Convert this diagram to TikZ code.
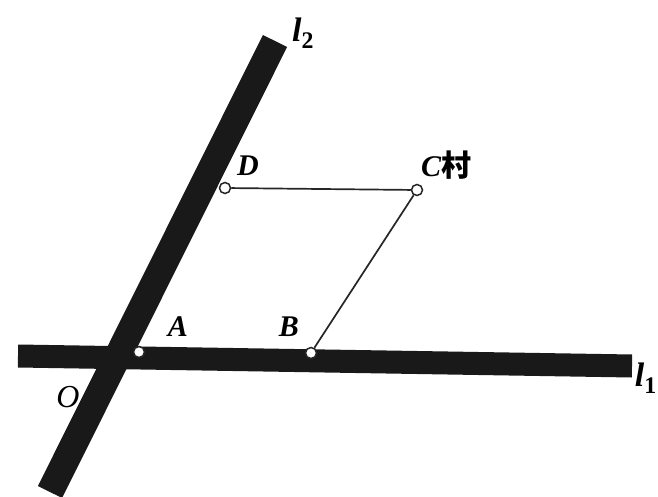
\documentclass[tikz,border=0pt]{standalone}
\usepackage{fontspec}
\setmainfont{Liberation Serif}
\newfontfamily\cjk{Noto Sans CJK SC}
\tikzset{
  bar/.style={line width=#1, line cap=butt, draw=black!90},
  thin/.style={line width=1.7pt, draw=black!85},
  pt/.style={circle, draw=black!85, fill=white, line width=1.5pt, inner sep=0pt, minimum size=11pt},
  lab/.style={font=\fontsize{30}{34}\selectfont\bfseries\itshape, inner sep=0pt},
  llab/.style={font=\fontsize{34}{36}\selectfont\bfseries\itshape, inner sep=0pt}
}
\begin{document}
\begin{tikzpicture}[x=1pt,y=1pt]
\fill[white] (0,0) rectangle (658,-497);
\useasboundingbox (0,0) rectangle (658,-497);
% lines l1 and l2
\coordinate (l1s) at (18,-356);
\coordinate (l1e) at (632,-366);
\coordinate (l2s) at (275,-41);
\coordinate (l2e) at (50,-492);
\draw[bar=23pt] (l1s) -- (l1e);
\draw[bar=27pt] (l2s) -- (l2e);
% points
\node[pt] (A) at (139,-352) {};
\node[pt] (B) at (311,-353) {};
\node[pt] (D) at (225,-188) {};
\node[pt] (C) at (417,-190) {};
\draw[thin] (D) -- (C);
\draw[thin] (B) -- (C);
% labels
\node[lab] (lA) at (178,-327) {A};
\node[lab] (lB) at (289,-327) {B};
\node[lab] (lD) at (248,-166) {D};
\node[lab] (lC) at (446,-165) {C{\cjk\bfseries 村}};
\node[font=\fontsize{32}{34}\selectfont\itshape, inner sep=0pt] (lO) at (68,-397) {O};
\node[llab, anchor=north west] (l2) at (292,-18) {l$_{\mathbf{2}}$};
\node[llab, anchor=north east] (l1) at (657,-363) {l$_{\mathbf{1}}$};
\end{tikzpicture}
\end{document}
